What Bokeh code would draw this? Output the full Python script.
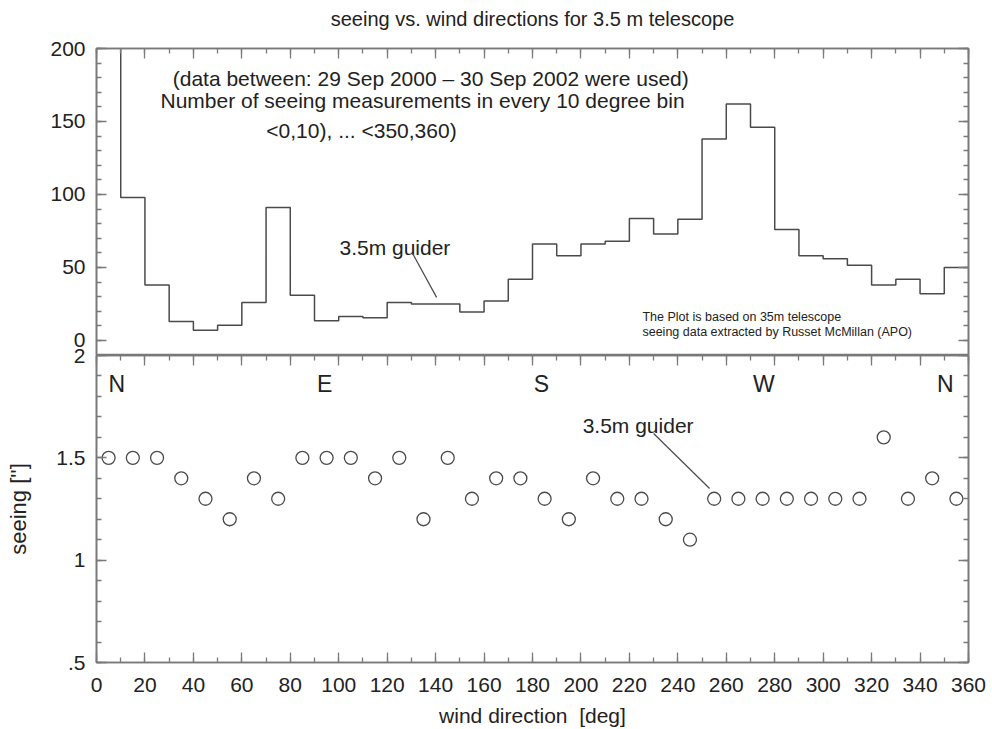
from bokeh.plotting import figure
from bokeh.models import (Range1d, LinearAxis, SingleIntervalTicker, ColumnDataSource,
                          CustomLabelingPolicy)
from bokeh.layouts import column
from bokeh.embed import file_html
from bokeh.resources import INLINE
from bokeh.core.properties import value

# ---------------- data ----------------
bin_left = list(range(0, 360, 10))
counts = [230, 98, 38, 13, 7, 10.5, 26, 91, 31, 13.5, 16.5, 15.5, 26, 25, 25, 19.5,
          27, 42, 66, 58, 66, 68, 83.5, 73, 83, 138, 162, 146, 76, 58, 56, 51.5,
          38, 42, 32, 50]
bin_center = list(range(5, 360, 10))
seeing = [1.5, 1.5, 1.5, 1.4, 1.3, 1.2, 1.4, 1.3, 1.5, 1.5, 1.5, 1.4, 1.5, 1.2, 1.5, 1.3,
          1.4, 1.4, 1.3, 1.2, 1.4, 1.3, 1.3, 1.2, 1.1, 1.3, 1.3, 1.3, 1.3, 1.3, 1.3, 1.3,
          1.6, 1.3, 1.4, 1.3]
compass_labels = ["N", "E", "S", "W", "N"]
compass_x = [5, 91, 180.5, 271, 347]
compass_y = [1.863] * 5

title_text = "seeing vs. wind directions for 3.5 m telescope"
top_notes = ["(data between: 29 Sep 2000 \u2013 30 Sep 2002 were used)",
             "Number of seeing measurements in every 10 degree bin",
             "<0,10), ... <350,360)"]
top_notes_x = [138, 134.6, 109.4]
top_notes_y = [179.5, 164.4, 143.8]
credit_notes = ["The Plot is based on 35m telescope",
                "seeing data extracted by Russet McMillan (APO)"]
credit_x = [225.4, 225.4]
credit_y = [16.4, 5.5]
guider_top_text = (123.2, 63.5)
guider_top_line = ([130.5, 140.4], [59.6, 29.5])
guider_bot_text = (223.6, 1.658)
guider_bot_line = ([230, 253.1], [1.619, 1.350])

FONT = "Liberation Sans"
TXT = "#222222"
AX = "#7a7a7a"
LINE = "#4a4a4a"

HIDE_JS = "for (let i = 0; i < indices.size; i++) { indices.unset(i) }\nreturn indices"


def style_axis(ax, labels=True, size="21px"):
    ax.axis_line_color = AX
    ax.axis_line_width = 1.6
    ax.major_tick_line_color = AX
    ax.minor_tick_line_color = AX
    ax.major_tick_line_width = 1.3
    ax.minor_tick_line_width = 1.3
    ax.major_tick_in = 10
    ax.major_tick_out = 0
    ax.minor_tick_in = 5
    ax.minor_tick_out = 0
    ax.major_label_text_font = FONT
    ax.major_label_text_font_size = size
    ax.major_label_text_color = TXT
    ax.axis_label_text_font = FONT
    ax.axis_label_text_font_style = "normal"
    ax.axis_label_text_color = TXT
    if not labels:
        ax.major_label_text_font_size = "1px"
        ax.major_label_standoff = 0
        ax.major_label_policy = CustomLabelingPolicy(code=HIDE_JS)


xr = Range1d(0, 360)

# ---------------- top panel ----------------
p1 = figure(frame_width=872, frame_height=307, x_range=xr, y_range=Range1d(-10.3, 200),
            x_axis_location="above", output_backend="svg", toolbar_location=None,
            min_border_left=96, min_border_right=24, min_border_top=54, min_border_bottom=0)
p1.margin = (-6, 0, 0, 0)
p1.title.text = title_text
p1.title.align = "center"
p1.title.vertical_align = "top"
p1.title.text_font = FONT
p1.title.text_font_size = "20px"
p1.title.text_font_style = "normal"
p1.title.text_color = TXT
p1.title.standoff = 25
p1.grid.visible = False
p1.outline_line_color = AX
p1.outline_line_width = 1.6

p1.xaxis.ticker = SingleIntervalTicker(interval=20, num_minor_ticks=2)
style_axis(p1.xaxis[0], labels=False)
p1.yaxis.ticker = SingleIntervalTicker(interval=50, num_minor_ticks=5)
style_axis(p1.yaxis[0])
p1.yaxis.major_label_standoff = 11
r1 = LinearAxis(ticker=SingleIntervalTicker(interval=50, num_minor_ticks=5))
style_axis(r1, labels=False)
p1.add_layout(r1, "right")

p1.step(x=bin_left + [360], y=counts + [counts[-1]], mode="after",
        line_color=LINE, line_width=1.5)

src_notes = ColumnDataSource(dict(x=top_notes_x, y=top_notes_y, t=top_notes))
p1.text(x="x", y="y", text="t", source=src_notes, text_align="center",
        text_baseline="alphabetic", text_font=value(FONT), text_font_size="21px",
        text_color=TXT)
src_credit = ColumnDataSource(dict(x=credit_x, y=credit_y, t=credit_notes))
p1.text(x="x", y="y", text="t", source=src_credit, text_align="left",
        text_baseline="alphabetic", text_font=value(FONT), text_font_size="12.5px",
        text_color=TXT)
p1.text(x=[guider_top_text[0]], y=[guider_top_text[1]], text=["3.5m guider"],
        text_align="center", text_baseline="alphabetic", text_font=value(FONT),
        text_font_size="21px", text_color=TXT)
p1.line(x=guider_top_line[0], y=guider_top_line[1], line_color=LINE, line_width=1.2)

# ---------------- bottom panel ----------------
p2 = figure(frame_width=872, frame_height=307, x_range=xr, y_range=Range1d(0.5, 2),
            output_backend="svg", toolbar_location=None,
            min_border_left=96, min_border_right=24, min_border_top=12, min_border_bottom=66)
p2.margin = (-12, 0, 0, 0)
p2.border_fill_alpha = 0
p2.grid.visible = False
p2.outline_line_color = AX
p2.outline_line_width = 1.6

p2.xaxis.ticker = SingleIntervalTicker(interval=20, num_minor_ticks=2)
style_axis(p2.xaxis[0])
p2.xaxis.major_label_standoff = 15
p2.xaxis.axis_label = "wind direction\u00a0 [deg]"
p2.xaxis.axis_label_text_font_size = "21px"
p2.xaxis.axis_label_standoff = 9

p2.yaxis.ticker = SingleIntervalTicker(interval=0.5, num_minor_ticks=5)
style_axis(p2.yaxis[0])
p2.yaxis.major_label_standoff = 11
p2.yaxis.major_label_overrides = {0.5: ".5", 1: "1", 1.5: "1.5", 2: "2"}
p2.yaxis.axis_label = "seeing ['']"
p2.yaxis.axis_label_text_font_size = "22px"
p2.yaxis.axis_label_standoff = 22

t2 = LinearAxis(ticker=SingleIntervalTicker(interval=20, num_minor_ticks=2))
style_axis(t2, labels=False)
p2.add_layout(t2, "above")
r2 = LinearAxis(ticker=SingleIntervalTicker(interval=0.5, num_minor_ticks=5))
style_axis(r2, labels=False)
p2.add_layout(r2, "right")

p2.scatter(x=bin_center, y=seeing, marker="circle", size=13, fill_color=None,
           line_color=LINE, line_width=1.3)

src_comp = ColumnDataSource(dict(x=compass_x, y=compass_y, t=compass_labels))
p2.text(x="x", y="y", text="t", source=src_comp, text_align="left",
        text_baseline="alphabetic", text_font=value(FONT), text_font_size="23px",
        text_color=TXT)
p2.text(x=[guider_bot_text[0]], y=[guider_bot_text[1]], text=["3.5m guider"],
        text_align="center", text_baseline="alphabetic", text_font=value(FONT),
        text_font_size="21px", text_color=TXT)
p2.line(x=guider_bot_line[0], y=guider_bot_line[1], line_color=LINE, line_width=1.2)

layout = column(p1, p2, spacing=0)
open("out.html", "w").write(file_html(layout, INLINE))
